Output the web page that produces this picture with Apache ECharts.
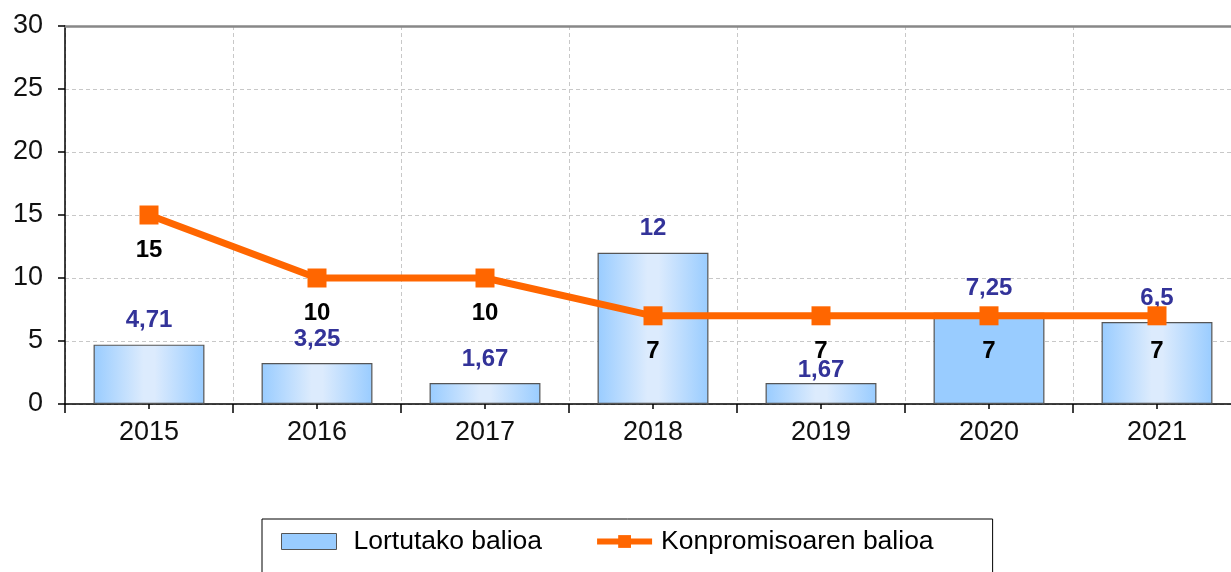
<!DOCTYPE html>
<html>
<head>
<meta charset="utf-8">
<script src="https://cdn.jsdelivr.net/npm/echarts@6/dist/echarts.min.js"></script>
<style>html,body{margin:0;padding:0;background:#fff;overflow:hidden;}#c{width:1245px;height:572px;}</style>
</head>
<body>
<div id="c"></div>
<script>
const categories = ['2015', '2016', '2017', '2018', '2019', '2020', '2021'];
const achieved = [4.71, 3.25, 1.67, 12, 1.67, 7.25, 6.5];
const commitment = [15, 10, 10, 7, 7, 7, 7];
const yTicks = { min: 0, max: 30, interval: 5 };
const seriesNames = ['Lortutako balioa', 'Konpromisoaren balioa'];

const FONT = '"Liberation Sans", Arial, sans-serif';
const fmt = v => String(v).replace('.', ',');
const barGrad = {
  type: 'linear', x: 0, y: 0, x2: 1, y2: 0,
  colorStops: [
    { offset: 0, color: '#99ccff' },
    { offset: 0.45, color: '#dcebfd' },
    { offset: 0.55, color: '#dcebfd' },
    { offset: 1, color: '#99ccff' }
  ]
};
const barData = achieved.map((v, i) => {
  if (i === 5) return { value: v, itemStyle: { color: '#99ccff' } };
  if (i === 4) return { value: v, label: { distance: 1 } };
  return v;
});

const chart = echarts.init(document.getElementById('c'), null, { renderer: 'canvas' });
chart.setOption({
  animation: false,
  backgroundColor: '#fff',
  textStyle: { fontFamily: FONT },
  grid: [
    { left: 65, right: 4, top: 26, bottom: 168, containLabel: false },
    { left: 65, right: 4, top: 26, bottom: 168, containLabel: false }
  ],
  legend: {
    left: 262, top: 519,
    borderColor: '#000', borderWidth: 1,
    padding: [9, 59, 40, 19],
    itemWidth: 55, itemHeight: 16, itemGap: 52,
    lineStyle: { width: 6 },
    textStyle: { fontSize: 26.5, color: '#000', fontFamily: FONT },
    data: [
      { name: seriesNames[0], icon: 'rect', itemStyle: { color: '#99ccff', borderColor: '#555', borderWidth: 1 }, textStyle: { padding: [0, 0, 0, 12] } },
      { name: seriesNames[1], textStyle: { padding: [0, 0, 0, 4] } }
    ]
  },
  xAxis: [
    {
      type: 'category', gridIndex: 0, data: categories, position: 'bottom',
      axisLine: { lineStyle: { color: '#000', width: 1.5 } },
      axisTick: { show: true, length: 9, lineStyle: { color: '#000', width: 1.5 } },
      axisLabel: { fontSize: 27, color: '#111', margin: 15, fontFamily: FONT },
      splitLine: { show: true, lineStyle: { color: '#c8c8c8', type: [4, 3], width: 1 } }
    },
    {
      type: 'category', gridIndex: 1, data: categories, position: 'bottom',
      axisLine: { show: false },
      axisTick: { show: true, alignWithLabel: true, length: 5, lineStyle: { color: '#000', width: 1.5 } },
      axisLabel: { show: false },
      splitLine: { show: false }
    },
    {
      type: 'category', gridIndex: 1, data: categories, position: 'top',
      axisLine: { show: true, lineStyle: { color: '#888', width: 2.5 } },
      axisTick: { show: false },
      axisLabel: { show: false },
      splitLine: { show: false }
    }
  ],
  yAxis: [
    {
      type: 'value', gridIndex: 0, min: yTicks.min, max: yTicks.max, interval: yTicks.interval,
      axisLine: { show: true, lineStyle: { color: '#000', width: 1.5 } },
      axisTick: { show: true, length: 7, lineStyle: { color: '#000', width: 1.5 } },
      axisLabel: { fontSize: 27, color: '#111', margin: 22, fontFamily: FONT },
      splitLine: { show: true, lineStyle: { color: '#c8c8c8', type: [4, 3], width: 1 } }
    },
    {
      type: 'value', gridIndex: 1, min: yTicks.min, max: yTicks.max, interval: yTicks.interval,
      show: false
    }
  ],
  series: [
    {
      name: seriesNames[0], type: 'bar', xAxisIndex: 0, yAxisIndex: 0,
      data: barData, barWidth: '66%',
      itemStyle: { color: barGrad, borderColor: '#555', borderWidth: 1.2 },
      label: {
        show: true, position: 'top', distance: 12,
        color: '#333399', fontWeight: 'bold', fontSize: 24, fontFamily: FONT,
        formatter: p => fmt(p.value)
      },
      z: 2
    },
    {
      name: seriesNames[1], type: 'line', xAxisIndex: 0, yAxisIndex: 0,
      data: commitment,
      symbol: 'rect', symbolSize: 19,
      lineStyle: { color: '#ff6600', width: 7 },
      itemStyle: { color: '#ff6600' },
      label: {
        show: true, position: 'bottom', distance: 14,
        color: '#000', fontWeight: 'bold', fontSize: 24, fontFamily: FONT,
        formatter: p => fmt(p.value)
      },
      z: 3
    }
  ]
});
</script>
</body>
</html>
